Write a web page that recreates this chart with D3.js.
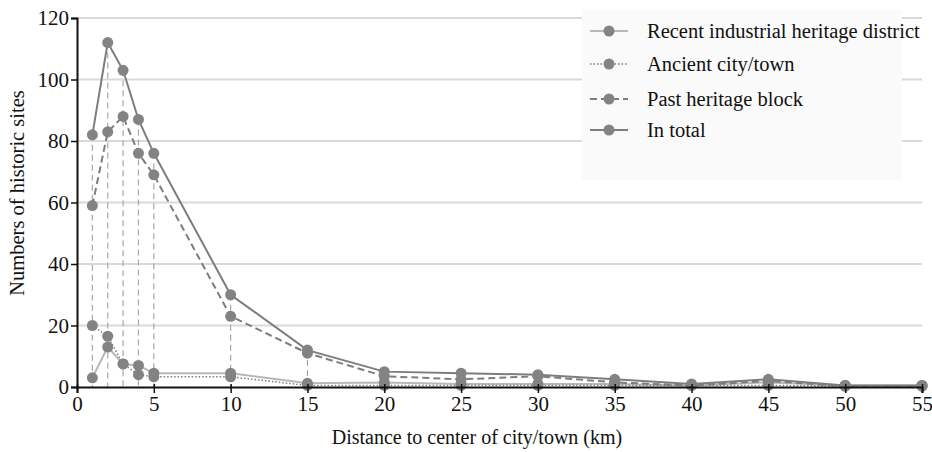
<!DOCTYPE html>
<html>
<head>
<meta charset="utf-8">
<script src="https://cdn.jsdelivr.net/npm/d3@7"></script>
<style>
  body { margin: 0; background: #fff; }
  svg text { font-family: "Liberation Serif", "Times New Roman", "DejaVu Serif", serif; fill: #111; }
</style>
</head>
<body>
<div id="plot"></div>
<script>
// Distance to center (km)
const distances = [1, 2, 3, 4, 5, 10, 15, 20, 25, 30, 35, 40, 45, 50, 55];

const recentIndustrial = [3, 13, 7.5, 7, 4.5, 4.5, 1.2, 1.5, 1, 1, 1, 0.5, 1.5, 0.5, 0.5];
const ancientCity = [20, 16.5, 7.5, 4, 3.3, 3.3, 0.5, 0.5, 0.5, 0.5, 0.5, 0.5, 0.5, 0.3, 0.3];
const pastHeritage = [59, 83, 88, 76, 69, 23, 11, 3.5, 2.5, 3.5, 1.5, 0.5, 2, 0.3, 0.3];
const inTotal = [82, 112, 103, 87, 76, 30, 12, 5, 4.5, 4, 2.5, 1, 2.5, 0.5, 0.5];

const seriesNames = ["Recent industrial heritage district", "Ancient city/town", "Past heritage block", "In total"];
const xTicks = [0, 5, 10, 15, 20, 25, 30, 35, 40, 45, 50, 55];
const yTicks = [0, 20, 40, 60, 80, 100, 120];
const dropAt = [1, 2, 3, 4, 5, 10, 15];

const serif = "'Liberation Serif', 'Times New Roman', 'DejaVu Serif', serif";

const width = 932;
const height = 452;
const margin = { top: 18, right: 10, bottom: 65, left: 77 };

const svg = d3.select("#plot")
  .append("svg")
  .attr("width", width)
  .attr("height", height);

const x = d3.scaleLinear().domain([0, 55]).range([margin.left, width - margin.right]);
const y = d3.scaleLinear().domain([0, 120]).range([height - margin.bottom, margin.top]);

// grid lines
svg.append("g")
  .selectAll("line")
  .data(yTicks.filter(d => d > 0))
  .enter()
  .append("line")
  .attr("x1", x(0))
  .attr("x2", x(55))
  .attr("y1", d => y(d))
  .attr("y2", d => y(d))
  .style("stroke", "#d9d9d9")
  .style("stroke-width", 2);

// legend background
svg.append("rect")
  .attr("x", 582)
  .attr("y", 10)
  .attr("width", 320)
  .attr("height", 170)
  .style("fill", "#fafafa");

// vertical drop lines
svg.append("g")
  .selectAll("line")
  .data(dropAt)
  .enter()
  .append("line")
  .attr("x1", d => x(d))
  .attr("x2", d => x(d))
  .attr("y1", d => y(inTotal[distances.indexOf(d)]))
  .attr("y2", y(0))
  .style("stroke", "#a8a8a8")
  .style("stroke-width", 1.2)
  .style("stroke-dasharray", "6,4");

const series = [
  { name: seriesNames[0], values: recentIndustrial, color: "#b8b8b8", dash: null, w: 2 },
  { name: seriesNames[1], values: ancientCity, color: "#7d7d7d", dash: "1.5,2", w: 1.5 },
  { name: seriesNames[2], values: pastHeritage, color: "#7d7d7d", dash: "7,4", w: 2 },
  { name: seriesNames[3], values: inTotal, color: "#7d7d7d", dash: null, w: 2 }
];

const line = d3.line()
  .x(d => x(d.x))
  .y(d => y(d.y));

series.forEach(s => {
  const pts = distances.map((d, i) => ({ x: d, y: s.values[i] }));
  svg.append("path")
    .datum(pts)
    .attr("d", line)
    .style("fill", "none")
    .style("stroke", s.color)
    .style("stroke-width", s.w)
    .style("stroke-dasharray", s.dash);
  svg.append("g")
    .selectAll("circle")
    .data(pts)
    .enter()
    .append("circle")
    .attr("cx", d => x(d.x))
    .attr("cy", d => y(d.y))
    .attr("r", 5.5)
    .style("fill", "#838383");
});

// axes
const xAxis = svg.append("g")
  .attr("transform", `translate(0,${y(0)})`)
  .call(d3.axisBottom(x).tickValues(xTicks).tickSize(6).tickPadding(3));
const yAxis = svg.append("g")
  .attr("transform", `translate(${x(0)},0)`)
  .call(d3.axisLeft(y).tickValues(yTicks).tickSize(6).tickPadding(2));

[xAxis, yAxis].forEach(a => {
  a.attr("font-family", serif);
  a.select(".domain").style("stroke", "#111").style("stroke-width", 2);
  a.selectAll(".tick line").style("stroke", "#111").style("stroke-width", 1.5);
  a.selectAll("text")
    .style("font-family", serif)
    .style("font-size", "21px")
    .style("fill", "#111");
});
xAxis.selectAll(".tick line").attr("y1", -3);

svg.append("text")
  .attr("x", 477)
  .attr("y", 444)
  .attr("text-anchor", "middle")
  .style("font-family", serif)
  .style("font-size", "20px")
  .text("Distance to center of city/town (km)");

svg.append("text")
  .attr("transform", `translate(24,193) rotate(-90)`)
  .attr("text-anchor", "middle")
  .style("font-family", serif)
  .style("font-size", "20.5px")
  .text("Numbers of historic sites");

// legend
const legendRows = [31, 64, 99, 130];
const legend = svg.append("g");
series.forEach((s, i) => {
  const g = legend.append("g").attr("transform", `translate(590,${legendRows[i]})`);
  g.append("line")
    .attr("x1", 0)
    .attr("x2", 38)
    .style("stroke", s.color)
    .style("stroke-width", s.w)
    .style("stroke-dasharray", s.dash);
  g.append("circle")
    .attr("cx", 19)
    .attr("r", 5.5)
    .style("fill", "#838383");
  g.append("text")
    .attr("x", 57)
    .attr("dy", "0.35em")
    .style("font-family", serif)
    .style("font-size", "20.5px")
    .text(s.name);
});
</script>
</body>
</html>
